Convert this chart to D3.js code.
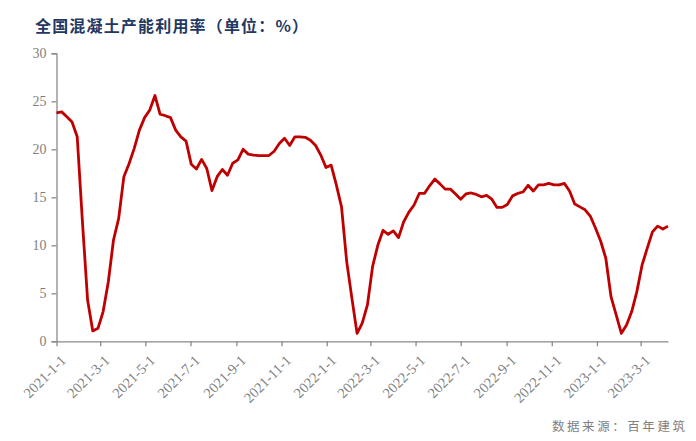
<!DOCTYPE html>
<html>
<head>
<meta charset="utf-8">
<script src="https://cdn.jsdelivr.net/npm/d3@7"></script>
<style>
  body { margin: 0; background: #fff; }
</style>
</head>
<body>
<svg></svg>
<script>
var w = 696, h = 441;

// weekly readings, first week starts 2021-1-1
var startDate = "2021-01-01";
var rates = [
  23.8, 23.9, 23.4, 22.85, 21.3, 12.5, 4.3, 1.08, 1.35, 3.1,
  6.2, 10.55, 12.8, 17.15, 18.5, 20.1, 22.0, 23.3, 24.1, 25.6,
  23.65, 23.5, 23.3, 22.0, 21.3, 20.85, 18.45, 17.95, 18.95, 18.0,
  15.7, 17.15, 17.9, 17.3, 18.55, 18.9, 20.0, 19.5, 19.4, 19.35,
  19.35, 19.35, 19.8, 20.6, 21.15, 20.4, 21.3, 21.3, 21.25, 20.95,
  20.4, 19.4, 18.1, 18.35, 16.3, 14.0, 8.3, 4.5, 0.83, 1.9,
  3.8, 7.8, 10.0, 11.55, 11.15, 11.5, 10.8, 12.45, 13.45, 14.2,
  15.4, 15.4, 16.2, 16.9, 16.4, 15.85, 15.85, 15.35, 14.8, 15.35,
  15.45, 15.3, 15.05, 15.2, 14.8, 13.95, 13.95, 14.25, 15.15, 15.4,
  15.55, 16.25, 15.65, 16.3, 16.3, 16.45, 16.3, 16.3, 16.45, 15.65,
  14.3, 14.0, 13.7, 13.05, 11.8, 10.45, 8.65, 4.65, 2.75, 0.83,
  1.7, 3.1, 5.2, 7.95, 9.7, 11.4, 12.0, 11.7, 12.0
];
var tickLabels = ["2021-1-1", "2021-3-1", "2021-5-1", "2021-7-1", "2021-9-1", "2021-11-1",
  "2022-1-1", "2022-3-1", "2022-5-1", "2022-7-1", "2022-9-1", "2022-11-1",
  "2023-1-1", "2023-3-1"];
var yTicks = [0, 5, 10, 15, 20, 25, 30];

var title = "全国混凝土产能利用率（单位：%）";
var source = "数据来源：百年建筑";

var parse = d3.timeParse("%Y-%m-%d");
var t0 = parse(startDate);
var data = rates.map(function(v, i) {
  return { date: d3.timeDay.offset(t0, i * 7), value: v };
});

var margin = { left: 56.5, right: 28 };

var svg = d3.select("svg")
            .attr("width", w)
            .attr("height", h);

var x = d3.scaleTime()
          .domain([t0, data[data.length - 1].date])
          .range([margin.left, w - margin.right]);

var y = d3.scaleLinear()
          .domain([0, 30])
          .range([341.3, 53.3]);

var axisColor = "#8a8a8a";
var textColor = "#7f7f7f";

// title
svg.append("text")
   .attr("x", 35)
   .attr("y", 32)
   .attr("font-family", "Noto Sans CJK SC")
   .attr("font-weight", "bold")
   .attr("font-size", 16)
   .attr("fill", "#1f3864")
   .attr("textLength", 273)
   .attr("lengthAdjust", "spacing")
   .text(title);

// y axis
var yAxis = svg.append("g")
               .attr("transform", "translate(" + margin.left + ",0)")
               .call(d3.axisLeft(y).tickValues(yTicks).tickSize(5).tickPadding(5));
yAxis.select(".domain").attr("stroke", axisColor).attr("stroke-width", 1.3);
yAxis.selectAll(".tick line").attr("stroke", axisColor).attr("stroke-width", 1.3);
yAxis.selectAll(".tick text")
     .attr("fill", textColor)
     .attr("font-family", "Liberation Serif")
     .attr("font-size", 14);

// x axis
var xAxis = svg.append("g")
               .attr("transform", "translate(0," + y(0) + ")")
               .call(d3.axisBottom(x)
                       .tickValues(tickLabels.map(function(s) {
                         var p = s.split("-");
                         return new Date(+p[0], +p[1] - 1, +p[2]);
                       }))
                       .tickFormat(function(d, i) { return tickLabels[i]; })
                       .tickSize(5)
                       .tickSizeOuter(0));
xAxis.select(".domain").attr("stroke", axisColor).attr("stroke-width", 1.3);
xAxis.selectAll(".tick line").attr("stroke", axisColor).attr("stroke-width", 1.3);
xAxis.selectAll(".tick text")
     .attr("fill", textColor)
     .attr("font-family", "Liberation Serif")
     .attr("font-size", 14.5)
     .attr("text-anchor", "end")
     .attr("dy", null)
     .attr("y", 0)
     .attr("transform", "translate(10,20) rotate(-45)");

// line
var line = d3.line()
             .x(function(d) { return x(d.date); })
             .y(function(d) { return y(d.value); });

svg.append("path")
   .datum(data)
   .attr("fill", "none")
   .attr("stroke", "#c00000")
   .attr("stroke-width", 2.8)
   .attr("stroke-linejoin", "round")
   .attr("d", line);

// source note
svg.append("text")
   .attr("x", 552)
   .attr("y", 431)
   .attr("font-family", "Noto Sans CJK SC")
   .attr("font-size", 12.5)
   .attr("fill", textColor)
   .attr("textLength", 133)
   .attr("lengthAdjust", "spacing")
   .text(source);
</script>
</body>
</html>
